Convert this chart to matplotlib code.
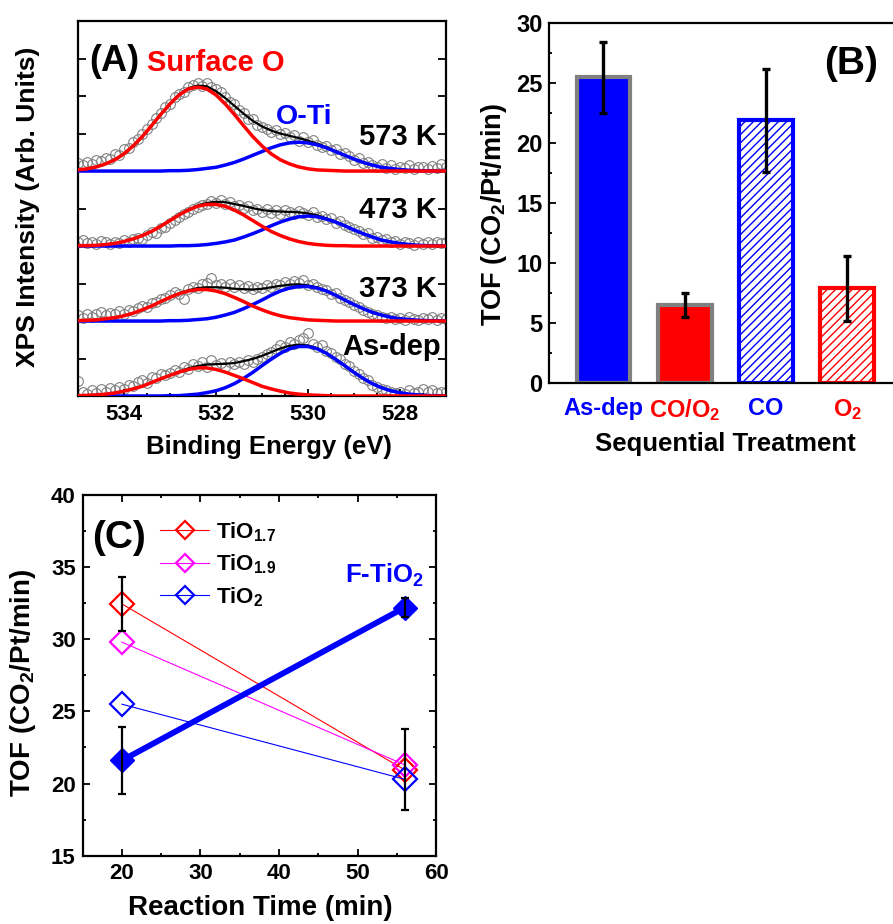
import numpy as np
import matplotlib
matplotlib.use("Agg")
import matplotlib.pyplot as plt
from matplotlib.ticker import MultipleLocator

plt.rcParams["font.family"] = ["Liberation Sans", "DejaVu Sans"]
plt.rcParams["font.weight"] = "bold"
plt.rcParams["axes.labelweight"] = "bold"
plt.rcParams["mathtext.default"] = "regular"
plt.rcParams["hatch.linewidth"] = 1.0
plt.rcParams["axes.linewidth"] = 1.6

# ---------------- (A) XPS O 1s spectra ----------------
# measured energy grid (eV), 0.1 eV steps, and fit grid, 0.2 eV steps
energy = np.linspace(535.0, 527.0, 81)
fit_energy = np.linspace(535.0, 527.0, 41)

xps_573 = [0.22, 0.15, 0.25, 0.18, 0.30, 0.26, 0.35, 0.32, 0.45, 0.42,
           0.58, 0.62, 0.78, 0.85, 0.98, 1.12, 1.25, 1.42, 1.55, 1.70,
           1.80, 1.98, 2.05, 2.12, 2.25, 2.30, 2.34, 2.28, 2.36, 2.25,
           2.20, 2.10, 1.98, 1.85, 1.80, 1.62, 1.55, 1.40, 1.38, 1.22,
           1.18, 1.12, 1.05, 1.10, 0.98, 1.02, 0.92, 0.95, 0.80, 0.90,
           0.78, 0.82, 0.70, 0.65, 0.68, 0.55, 0.58, 0.45, 0.48, 0.40,
           0.30, 0.35, 0.22, 0.25, 0.15, 0.12, 0.18, 0.08, 0.15, 0.05,
           0.12, 0.08, 0.15, 0.05, 0.10, 0.12, 0.06, 0.14, 0.08, 0.18,
           0.10]
xps_473 = [0.10, 0.15, 0.08, 0.12, 0.05, 0.14, 0.10, 0.06, 0.12, 0.08,
           0.15, 0.10, 0.18, 0.22, 0.20, 0.30, 0.38, 0.35, 0.48, 0.52,
           0.62, 0.70, 0.78, 0.85, 0.92, 0.98, 1.05, 1.10, 1.12, 1.20,
           1.15, 1.22, 1.12, 1.18, 1.08, 1.10, 1.02, 1.06, 0.95, 1.00,
           0.92, 0.98, 0.88, 0.95, 0.86, 0.96, 0.90, 0.85, 0.94, 0.88,
           0.82, 0.90, 0.78, 0.80, 0.72, 0.75, 0.62, 0.66, 0.55, 0.52,
           0.45, 0.40, 0.32, 0.35, 0.22, 0.25, 0.15, 0.18, 0.10, 0.14,
           0.06, 0.12, 0.08, 0.04, 0.10, 0.06, 0.12, 0.05, 0.10, 0.08,
           0.12]
xps_373 = [0.15, 0.08, 0.20, 0.12, 0.18, 0.25, 0.15, 0.22, 0.18, 0.28,
           0.20, 0.30, 0.26, 0.35, 0.40, 0.38, 0.48, 0.50, 0.58, 0.62,
           0.70, 0.78, 0.72, 0.60, 0.85, 0.92, 0.88, 0.98, 1.02, 1.15,
           0.95, 1.00, 0.92, 0.98, 0.90, 0.96, 0.88, 0.94, 0.86, 0.92,
           0.88, 0.95, 0.90, 0.98, 0.96, 1.04, 0.98, 1.08, 1.02, 1.10,
           0.96, 1.00, 0.90, 0.85, 0.82, 0.72, 0.75, 0.62, 0.55, 0.50,
           0.42, 0.38, 0.30, 0.25, 0.20, 0.15, 0.12, 0.08, 0.10, 0.05,
           0.08, 0.04, 0.10, 0.06, 0.03, 0.08, 0.05, 0.10, 0.04, 0.07,
           0.05]
xps_asdep = [0.40, 0.12, 0.05, 0.15, 0.08, 0.18, 0.10, 0.22, 0.15, 0.25,
             0.20, 0.30, 0.28, 0.38, 0.42, 0.35, 0.50, 0.48, 0.58, 0.55,
             0.62, 0.70, 0.65, 0.78, 0.72, 0.85, 0.80, 0.92, 0.78, 0.95,
             0.82, 0.88, 0.78, 0.92, 0.85, 0.90, 0.86, 0.95, 0.92, 1.00,
             1.05, 1.12, 1.18, 1.25, 1.35, 1.30, 1.45, 1.40, 1.50, 1.55,
             1.68, 1.38, 1.30, 1.35, 1.20, 1.15, 1.05, 0.98, 0.85, 0.80,
             0.68, 0.60, 0.48, 0.42, 0.30, 0.25, 0.18, 0.15, 0.12, 0.08,
             0.10, 0.06, 0.15, 0.08, 0.12, 0.20, 0.10, 0.15, 0.08, 0.12,
             0.10]

# fitted components (surface O = red, O-Ti = blue)
surf_573 = [0.03, 0.06, 0.11, 0.19, 0.30, 0.46, 0.67, 0.92, 1.21, 1.51,
            1.79, 2.03, 2.19, 2.24, 2.19, 2.03, 1.79, 1.51, 1.21, 0.92,
            0.67, 0.46, 0.30, 0.19, 0.11, 0.06, 0.03, 0.02, 0.01, 0.00,
            0.00, 0.00, 0.00, 0.00, 0.00, 0.00, 0.00, 0.00, 0.00, 0.00, 0.00]
oti_573 = [0.00, 0.00, 0.00, 0.00, 0.00, 0.00, 0.00, 0.00, 0.00, 0.00,
           0.01, 0.01, 0.02, 0.04, 0.07, 0.10, 0.16, 0.23, 0.32, 0.42,
           0.52, 0.62, 0.70, 0.75, 0.77, 0.75, 0.70, 0.62, 0.52, 0.42,
           0.32, 0.23, 0.16, 0.10, 0.07, 0.04, 0.02, 0.01, 0.01, 0.00, 0.00]
surf_473 = [0.01, 0.01, 0.02, 0.04, 0.07, 0.12, 0.19, 0.28, 0.39, 0.53,
            0.68, 0.83, 0.96, 1.06, 1.11, 1.11, 1.06, 0.96, 0.83, 0.68,
            0.53, 0.39, 0.28, 0.19, 0.12, 0.07, 0.04, 0.02, 0.01, 0.01,
            0.00, 0.00, 0.00, 0.00, 0.00, 0.00, 0.00, 0.00, 0.00, 0.00, 0.00]
oti_473 = [0.00, 0.00, 0.00, 0.00, 0.00, 0.00, 0.00, 0.00, 0.00, 0.00,
           0.00, 0.01, 0.01, 0.02, 0.04, 0.07, 0.11, 0.16, 0.24, 0.33,
           0.43, 0.54, 0.64, 0.72, 0.78, 0.80, 0.78, 0.72, 0.64, 0.54,
           0.43, 0.33, 0.24, 0.16, 0.11, 0.07, 0.04, 0.02, 0.01, 0.01, 0.00]
surf_373 = [0.01, 0.02, 0.03, 0.06, 0.09, 0.14, 0.21, 0.30, 0.40, 0.52,
            0.63, 0.73, 0.80, 0.84, 0.84, 0.80, 0.73, 0.63, 0.52, 0.40,
            0.30, 0.21, 0.14, 0.09, 0.06, 0.03, 0.02, 0.01, 0.00, 0.00,
            0.00, 0.00, 0.00, 0.00, 0.00, 0.00, 0.00, 0.00, 0.00, 0.00, 0.00]
oti_373 = [0.00, 0.00, 0.00, 0.00, 0.00, 0.00, 0.00, 0.00, 0.00, 0.00,
           0.01, 0.01, 0.02, 0.04, 0.06, 0.10, 0.16, 0.23, 0.33, 0.44,
           0.56, 0.69, 0.80, 0.88, 0.92, 0.92, 0.88, 0.80, 0.69, 0.56,
           0.44, 0.33, 0.23, 0.16, 0.10, 0.06, 0.04, 0.02, 0.01, 0.01, 0.00]
surf_asdep = [0.01, 0.02, 0.03, 0.05, 0.08, 0.13, 0.19, 0.26, 0.36, 0.46,
              0.55, 0.64, 0.71, 0.75, 0.75, 0.71, 0.64, 0.55, 0.46, 0.36,
              0.26, 0.19, 0.13, 0.08, 0.05, 0.03, 0.02, 0.01, 0.00, 0.00,
              0.00, 0.00, 0.00, 0.00, 0.00, 0.00, 0.00, 0.00, 0.00, 0.00, 0.00]
oti_asdep = [0.00, 0.00, 0.00, 0.00, 0.00, 0.00, 0.00, 0.00, 0.00, 0.00,
             0.01, 0.01, 0.03, 0.05, 0.09, 0.14, 0.22, 0.33, 0.47, 0.63,
             0.81, 0.98, 1.14, 1.26, 1.32, 1.32, 1.26, 1.14, 0.98, 0.81,
             0.63, 0.47, 0.33, 0.22, 0.14, 0.09, 0.05, 0.03, 0.01, 0.01, 0.00]

spectra_labels = ["573 K", "473 K", "373 K", "As-dep"]

# ---------------- (B) TOF vs treatment ----------------
treatments = ["As-dep", "CO/O$_2$", "CO", "O$_2$"]
tof = [25.5, 6.5, 21.9, 7.9]
tof_err = [2.95, 1.0, 4.3, 2.7]

# ---------------- (C) TOF vs reaction time ----------------
time_min = [20, 56]
tof_tio17 = [32.45, 20.95]
tof_tio17_err = [1.9, 2.8]
tof_tio19 = [29.8, 21.3]
tof_tio2 = [25.5, 20.3]
tof_ftio2 = [21.6, 32.2]
tof_ftio2_err = [2.3, 0.65]

fig = plt.figure(figsize=(8.93, 9.24), dpi=100)

# ---- panel A
axA = fig.add_axes([0.0873, 0.5714, 0.4121, 0.4058])
offsets = [6, 4, 2, 0]
for data, surf, oti, off in zip([xps_573, xps_473, xps_373, xps_asdep],
                                [surf_573, surf_473, surf_373, surf_asdep],
                                [oti_573, oti_473, oti_373, oti_asdep],
                                offsets):
    surf = np.array(surf)
    oti = np.array(oti)
    axA.plot(energy, np.array(data) + off, "o", mfc="none", mec="#808080",
             ms=7, mew=0.8, zorder=1)
    axA.plot(fit_energy, surf + oti + off, color="black", lw=1.6, zorder=2)
    axA.plot(fit_energy, oti + off, color="blue", lw=2.5, zorder=3)
    axA.plot(fit_energy, surf + off, color="red", lw=2.5, zorder=4)

axA.set_xlim(535, 527)
axA.set_ylim(0, 10)
axA.xaxis.set_major_locator(MultipleLocator(2))
axA.xaxis.set_minor_locator(MultipleLocator(0.5))
axA.set_yticks(range(1, 10))
axA.set_yticklabels([])
axA.tick_params(axis="both", which="both", direction="in", width=1.3)
axA.tick_params(axis="y", which="major", length=6, left=True, right=True)
axA.tick_params(axis="x", which="major", length=5, labelsize=16, pad=6)
axA.tick_params(axis="x", which="minor", length=2.5)
axA.set_xlabel("Binding Energy (eV)", fontsize=18.5)
axA.xaxis.set_label_coords(0.52, -0.105)
axA.set_ylabel("XPS Intensity (Arb. Units)", fontsize=19)
axA.yaxis.set_label_coords(-0.103, 0.505)

axA.text(0.03, 0.8675, "(A)", transform=axA.transAxes, fontsize=26, va="baseline")
axA.text(0.1875, 0.8667, "Surface O", transform=axA.transAxes, fontsize=21,
         color="red", va="baseline")
axA.text(0.538, 0.7253, "O-Ti", transform=axA.transAxes, fontsize=20.5,
         color="blue", va="baseline")
for lbl, yb, xr in zip(spectra_labels, [0.669, 0.474, 0.265, 0.109],
                       [0.976, 0.976, 0.976, 0.985]):
    axA.text(xr, yb, lbl, transform=axA.transAxes, fontsize=21,
             ha="right", va="baseline")

# ---- panel B
axB = fig.add_axes([0.6151, 0.5852, 0.3882, 0.3896])
xpos = np.arange(len(treatments))
face = ["blue", "red", "white", "white"]
edge = ["#808080", "#808080", "blue", "red"]
hatch = [None, None, "////", "////"]
label_colors = ["blue", "red", "blue", "red"]
for i in range(len(treatments)):
    axB.bar(xpos[i], tof[i], width=0.66, color=face[i], edgecolor=edge[i],
            linewidth=3, hatch=hatch[i], zorder=1)
axB.errorbar(xpos, tof, yerr=tof_err, fmt="none", ecolor="black",
             elinewidth=2.4, capsize=3, capthick=2.4, zorder=3)
axB.set_xlim(-0.667, 3.6)
axB.set_ylim(0, 30)
axB.spines["right"].set_visible(False)
axB.yaxis.set_major_locator(MultipleLocator(5))
axB.yaxis.set_minor_locator(MultipleLocator(2.5))
axB.tick_params(axis="y", which="both", direction="in", width=1.3,
                labelsize=17, pad=5)
axB.tick_params(axis="y", which="major", length=5)
axB.tick_params(axis="y", which="minor", length=2.5)
axB.set_xticks(xpos, treatments)
axB.tick_params(axis="x", length=0, labelsize=17, pad=10)
for lbl, c in zip(axB.get_xticklabels(), label_colors):
    lbl.set_color(c)
axB.set_xlabel("Sequential Treatment", fontsize=18.5)
axB.xaxis.set_label_coords(0.507, -0.135)
axB.set_ylabel("TOF (CO$_2$/Pt/min)", fontsize=19.5)
axB.yaxis.set_label_coords(-0.115, 0.47)
axB.text(2.71, 25.8, "(B)", fontsize=28, va="baseline")

# ---- panel C
axC = fig.add_axes([0.0926, 0.0739, 0.3957, 0.3904])
axC.plot(time_min, tof_tio17, "-D", color="red", lw=0.8, ms=12.5, mfc="none",
         mew=1.6, label="TiO$_{1.7}$", zorder=2)
axC.plot(time_min, tof_tio19, "-D", color="#ff00ff", lw=0.8, ms=12.5, mfc="none",
         mew=1.6, label="TiO$_{1.9}$", zorder=2)
axC.plot(time_min, tof_tio2, "-D", color="blue", lw=0.8, ms=12.5, mfc="none",
         mew=1.6, label="TiO$_2$", zorder=2)
axC.plot(time_min, tof_ftio2, "-D", color="blue", lw=4.2, ms=12.5, zorder=3)
axC.errorbar(time_min, tof_tio17, yerr=tof_tio17_err, fmt="none", ecolor="black",
             elinewidth=1.6, capsize=3, capthick=1.6, zorder=4)
axC.errorbar(time_min, tof_ftio2, yerr=tof_ftio2_err, fmt="none", ecolor="black",
             elinewidth=1.6, capsize=3, capthick=1.6, zorder=4)
axC.set_xlim(15, 60)
axC.set_ylim(15, 40)
axC.xaxis.set_major_locator(MultipleLocator(10))
axC.xaxis.set_minor_locator(MultipleLocator(5))
axC.yaxis.set_major_locator(MultipleLocator(5))
axC.yaxis.set_minor_locator(MultipleLocator(2.5))
axC.tick_params(axis="both", which="both", direction="in", width=1.3,
                top=True, right=True, labelsize=16, pad=5)
axC.tick_params(axis="both", which="major", length=5)
axC.tick_params(axis="both", which="minor", length=2.5)
axC.set_xlabel("Reaction Time (min)", fontsize=20)
axC.xaxis.set_label_coords(0.502, -0.109)
axC.set_ylabel("TOF (CO$_2$/Pt/min)", fontsize=20)
axC.yaxis.set_label_coords(-0.127, 0.479)
axC.text(16.25, 36.3, "(C)", fontsize=28, va="baseline")
axC.text(48.4, 33.9, "F-TiO$_2$", fontsize=18.5, color="blue", va="baseline")
axC.legend(loc="upper left", bbox_to_anchor=(0.22, 0.93), frameon=False,
           fontsize=16, markerscale=0.75, handlelength=2.2, handletextpad=0.3,
           labelspacing=0.4, borderpad=0, borderaxespad=0)

fig.savefig("out.png", dpi=100)
